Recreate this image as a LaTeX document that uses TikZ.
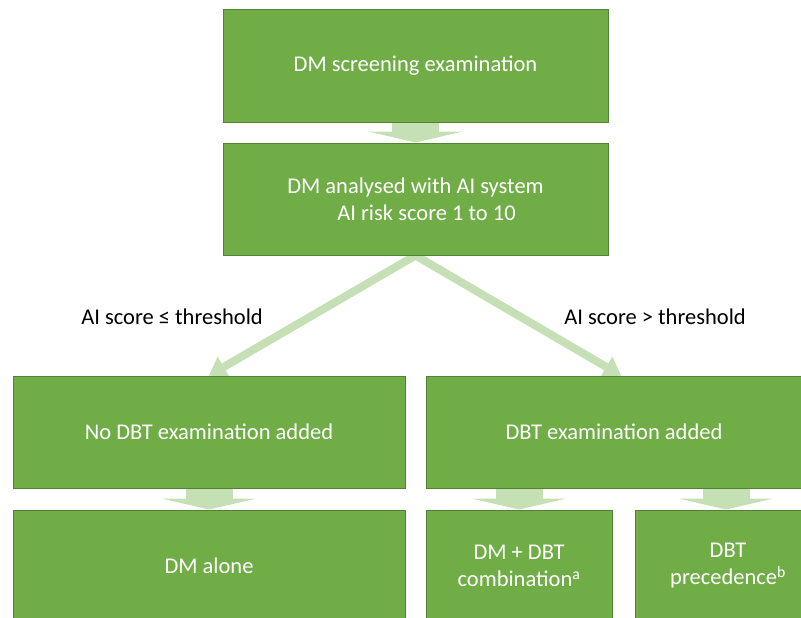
\documentclass[tikz,border=0pt]{standalone}
\usepackage{fontspec}
\setmainfont{Carlito}
\usetikzlibrary{arrows.meta,backgrounds}
\definecolor{boxgreen}{HTML}{70AD47}
\definecolor{boxedge}{HTML}{548235}
\definecolor{flowgreen}{HTML}{C5E0B4}
\tikzset{
  stage/.style={draw=boxedge, line width=1pt, fill=boxgreen, text=white,
    minimum height=112pt, inner sep=0pt, align=center,
    font=\fontsize{22.5}{27}\selectfont},
  lbl/.style={text=black, inner sep=0pt, font=\fontsize{22.5}{27}\selectfont},
  fatflow/.style={draw=flowgreen, line width=47pt,
    -{Triangle[width=95pt,length=11pt,line width=0pt]}},
  thinflow/.style={draw=flowgreen, line width=8pt,
    -{Triangle[width=24pt,length=17pt,line width=0pt]}}
}
\begin{document}
\begin{tikzpicture}[x=1pt,y=-1pt]
  \path[use as bounding box] (0,0) rectangle (801,618);
  \clip (0,0) rectangle (801,618);
  \node[stage, minimum width=385pt] (screen) at (415.5,66) {DM screening examination};
  \node[stage, minimum width=385pt] (ai) at (415.5,199)
    {DM analysed with AI system\\\hspace*{22pt}AI risk score 1 to 10};
  \node[stage, minimum width=392pt] (nodbt) at (209,432) {No DBT examination added};
  \node[stage, minimum width=376pt] (dbt) at (614,432) {DBT examination added};
  \node[stage, minimum width=392pt] (alone) at (209,566) {DM alone};
  \node[stage, minimum width=186pt] (comb) at (519,566) {DM + DBT\\combination\textsuperscript{a}};
  \node[stage, minimum width=186pt] (prec) at (728,566) {DBT\\precedence\textsuperscript{b}};
  \node[lbl] (low) at (172,317) {AI score ≤ threshold};
  \node[lbl] (high) at (655,317) {AI score > threshold};
  \begin{scope}[on background layer]
    \draw[fatflow] (screen.south) to (ai.north);
    \draw[thinflow] (ai.south) to (nodbt.north);
    \draw[thinflow] (ai.south) to ([xshift=7pt]dbt.north);
    \draw[fatflow] (nodbt.south) to (alone.north);
    \draw[fatflow] (comb.north |- dbt.south) to (comb.north);
    \draw[fatflow] ([xshift=-2pt]prec.north |- dbt.south) to ([xshift=-2pt]prec.north);
  \end{scope}
\end{tikzpicture}
\end{document}
